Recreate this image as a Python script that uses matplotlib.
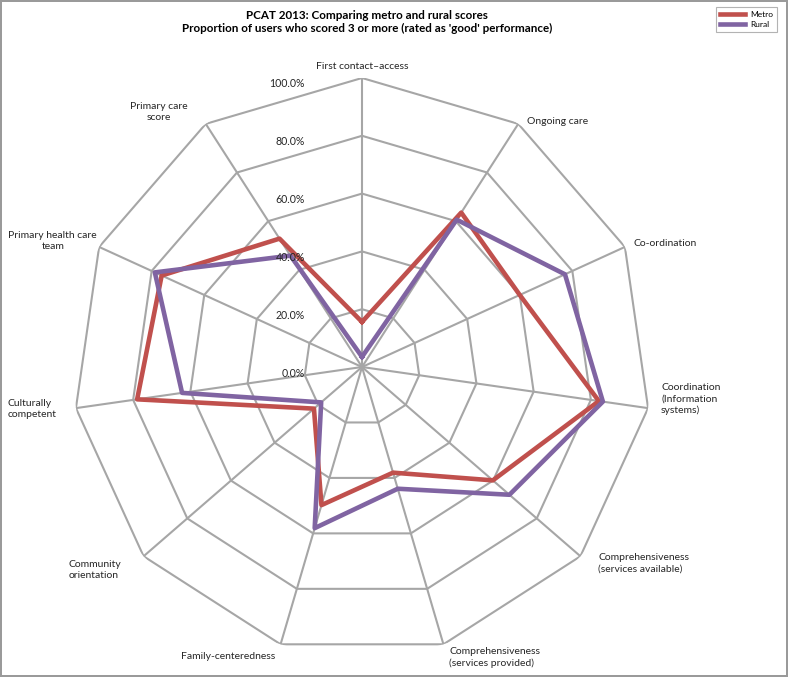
import numpy as np
import matplotlib
matplotlib.use("Agg")
import matplotlib.pyplot as plt
from matplotlib.lines import Line2D

plt.rcParams["font.family"] = ["Lato", "DejaVu Sans"]

TITLE = ("PCAT 2013: Comparing metro and rural scores\n"
         "Proportion of users who scored 3 or more (rated as 'good' performance)")

CATEGORIES = [
    "First contact\u2013access",
    "Ongoing care",
    "Co-ordination",
    "Coordination\n(Information\nsystems)",
    "Comprehensiveness\n(services available)",
    "Comprehensiveness\n(services provided)",
    "Family-centeredness",
    "Community\norientation",
    "Culturally\ncompetent",
    "Primary health care\nteam",
    "Primary care\nscore",
]
METRO = [15.6, 63.5, 60.0, 82.8, 59.9, 38.1, 49.8, 22.0, 78.6, 76.2, 52.8]
RURAL = [3.5, 60.6, 77.2, 84.2, 67.5, 43.9, 58.1, 18.7, 62.9, 78.8, 45.8]
RINGS = [0, 20, 40, 60, 80, 100]

C_METRO = "#C0504D"
C_RURAL = "#8064A2"
C_GRID = "#A6A6A6"
C_TEXT = "#262626"

# label placement next to each outer vertex: (dx px, dy px, ha, va, line alignment)
LABEL_POS = [
    (0, 7, "center", "bottom", "center"),
    (9, 2, "left", "center", "left"),
    (9, 3, "left", "center", "left"),
    (13, 9, "left", "center", "left"),
    (18, -7, "left", "center", "left"),
    (6, -13, "left", "center", "left"),
    (-5, -12, "right", "center", "left"),
    (-22, -14, "right", "center", "left"),
    (-19, -1, "right", "center", "left"),
    (-2, 6, "right", "center", "center"),
    (-18, 12, "right", "center", "center"),
]


def main():
    fig = plt.figure(figsize=(7.88, 6.77), dpi=100, facecolor="white")
    fig.patch.set_edgecolor("#9a9a9a")
    fig.patch.set_linewidth(1.5)

    ax = fig.add_axes([0.0926, 0.0310, 0.7336, 0.8538], projection="polar")
    ax.set_theta_zero_location("N")
    ax.set_theta_direction(-1)
    ax.set_ylim(0, 100)
    ax.grid(False)
    ax.spines["polar"].set_visible(False)
    ax.set_xticks([])
    ax.set_yticks([])
    ax.patch.set_alpha(0)

    n = len(CATEGORIES)
    angles = np.arange(n) * 2 * np.pi / n
    closed = np.append(angles, angles[0])

    # polygon grid
    for r in RINGS[1:]:
        ax.plot(closed, [r] * (n + 1), color=C_GRID, lw=1.5, zorder=1)
    for a in angles:
        ax.plot([a, a], [0, 100], color=C_GRID, lw=1.5, zorder=1)

    ax.plot(closed, METRO + METRO[:1], color=C_METRO, lw=3.3, zorder=3)
    ax.plot(closed, RURAL + RURAL[:1], color=C_RURAL, lw=3.3, zorder=4)

    for r in RINGS:
        ax.annotate(f"{r:.1f}%", xy=(0, r), xytext=(-57, -6),
                    textcoords="offset pixels", ha="right", va="center",
                    fontsize=7.6, color=C_TEXT, zorder=5)

    for a, lab, (dx, dy, ha, va, ma) in zip(angles, CATEGORIES, LABEL_POS):
        ax.annotate(lab, xy=(a, 100), xytext=(dx, dy),
                    textcoords="offset pixels", ha=ha, va=va,
                    multialignment=ma, fontsize=7.5, color=C_TEXT,
                    linespacing=1.3, annotation_clip=False)

    fig.text(367 / 788, 1 - 22 / 677, TITLE, ha="center", va="center",
             fontsize=8.4, fontweight="bold", color="black", linespacing=1.3)

    handles = [Line2D([], [], color=C_METRO, lw=3.3, label="Metro"),
               Line2D([], [], color=C_RURAL, lw=3.3, label="Rural")]
    leg = fig.legend(handles=handles, loc="upper right",
                     bbox_to_anchor=(781 / 788, 1 - 3 / 677),
                     fontsize=6.0, frameon=True, fancybox=False,
                     handlelength=3.0, handletextpad=0.6, borderpad=0.45,
                     labelspacing=0.4)
    leg.get_frame().set_edgecolor("#a0a0a0")
    leg.get_frame().set_linewidth(0.8)

    fig.savefig("out.png", dpi=100, facecolor="white", edgecolor=fig.get_edgecolor())


if __name__ == "__main__":
    main()
